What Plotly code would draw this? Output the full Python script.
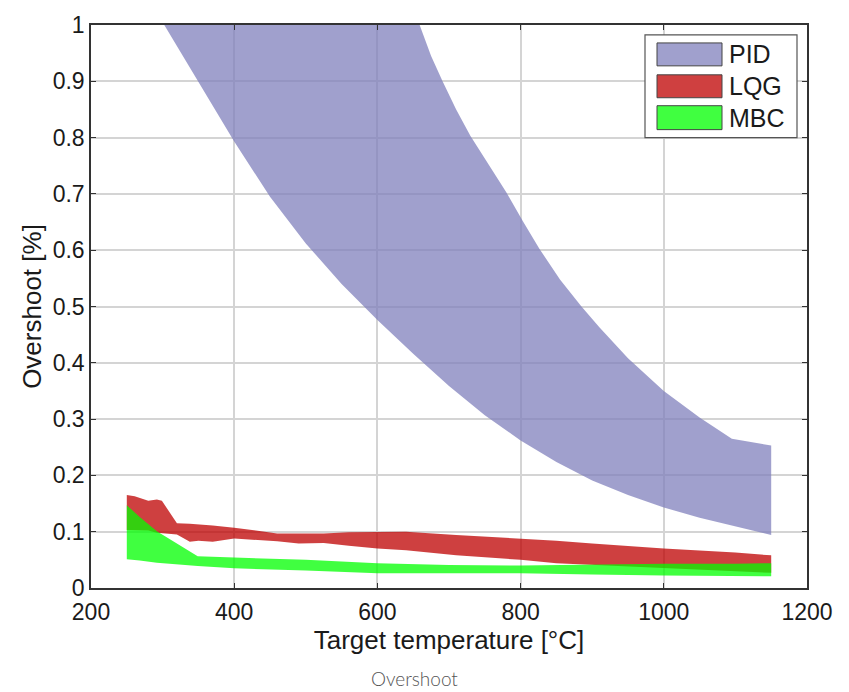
import plotly.graph_objects as go

# ---------------- data ----------------
pid_upper_x = [250, 450, 600, 640, 659, 675, 691, 710, 730, 755, 780, 803, 826, 855, 885, 910, 950, 1000, 1050, 1095, 1150]
pid_upper_y = [1.60, 1.40, 1.14, 1.05, 1.00, 0.945, 0.90, 0.85, 0.803, 0.752, 0.703, 0.652, 0.603, 0.548, 0.50, 0.463, 0.408, 0.35, 0.303, 0.265, 0.253]
pid_lower_x = [250, 300, 350, 400, 450, 500, 550, 600, 650, 700, 750, 800, 850, 900, 950, 1000, 1050, 1100, 1150]
pid_lower_y = [1.115, 1.005, 0.898, 0.793, 0.695, 0.612, 0.540, 0.476, 0.416, 0.359, 0.307, 0.262, 0.224, 0.191, 0.165, 0.143, 0.125, 0.109, 0.094]

lqg_x = [250, 261, 280, 292, 299, 320, 338, 350, 370, 400, 460, 490, 525, 560, 600, 640, 710, 800, 850, 900, 1000, 1100, 1150]
lqg_upper = [0.165, 0.163, 0.155, 0.157, 0.155, 0.115, 0.114, 0.113, 0.111, 0.107, 0.097, 0.097, 0.097, 0.099, 0.100, 0.100, 0.094, 0.088, 0.084, 0.079, 0.070, 0.063, 0.058]
lqg_lower = [0.103, 0.103, 0.102, 0.098, 0.097, 0.095, 0.082, 0.084, 0.082, 0.088, 0.083, 0.079, 0.080, 0.075, 0.070, 0.067, 0.058, 0.050, 0.044, 0.041, 0.036, 0.030, 0.027]

mbc_x = [250, 268, 292, 316, 338, 349, 400, 500, 600, 700, 800, 900, 1000, 1100, 1150]
mbc_upper = [0.147, 0.126, 0.101, 0.082, 0.064, 0.0566, 0.054, 0.050, 0.044, 0.041, 0.040, 0.042, 0.043, 0.043, 0.044]
mbc_lower = [0.051, 0.049, 0.045, 0.043, 0.040, 0.039, 0.035, 0.031, 0.026, 0.026, 0.026, 0.024, 0.022, 0.021, 0.021]

series_names = ["PID", "LQG", "MBC"]
series_fill = ["rgba(128,128,188,0.75)", "rgba(190,0,0,0.75)", "rgba(0,255,0,0.75)"]

x_ticks = [200, 400, 600, 800, 1000, 1200]
y_ticks = [0, 0.1, 0.2, 0.3, 0.4, 0.5, 0.6, 0.7, 0.8, 0.9, 1]
y_tick_text = ["0", "0.1", "0.2", "0.3", "0.4", "0.5", "0.6", "0.7", "0.8", "0.9", "1"]

# ---------------- figure ----------------
fig = go.Figure()

def band(xu, yu, xl, yl, name, color):
    xs = list(xu) + list(reversed(xl)) + [xu[0]]
    ys = list(yu) + list(reversed(yl)) + [yu[0]]
    fig.add_trace(go.Scatter(x=xs, y=ys, fill="toself", fillcolor=color,
                             mode="lines", line=dict(width=0), name=name,
                             hoverinfo="skip", showlegend=False))

band(pid_upper_x, pid_upper_y, pid_lower_x, pid_lower_y, series_names[0], series_fill[0])
band(lqg_x, lqg_upper, lqg_x, lqg_lower, series_names[1], series_fill[1])
band(mbc_x, mbc_upper, mbc_x, mbc_lower, series_names[2], series_fill[2])

W, H = 849, 692
L, R, T, B = 91, 42, 23, 104

font_main = "Liberation Sans, Arial, sans-serif"

fig.update_layout(
    width=W, height=H,
    margin=dict(l=L, r=R, t=T, b=B, pad=0),
    paper_bgcolor="white", plot_bgcolor="white",
    showlegend=False,
    font=dict(family=font_main, color="#1a1a1a"),
    xaxis=dict(range=[200, 1200], tickvals=x_ticks, ticktext=[str(v) for v in x_ticks],
               showgrid=True, gridcolor="#d4d4d4", gridwidth=1.5,
               showline=True, linecolor="#333", linewidth=1.5, mirror="ticks",
               ticks="inside", ticklen=5, tickcolor="#333",
               ticklabelstandoff=3,
               tickfont=dict(size=23, family=font_main),
               title=dict(text="Target temperature [°C]", font=dict(size=26, family=font_main), standoff=4),
               zeroline=False, fixedrange=True),
    yaxis=dict(range=[0, 1], tickvals=y_ticks, ticktext=y_tick_text,
               showgrid=True, gridcolor="#d4d4d4", gridwidth=1.5,
               showline=True, linecolor="#333", linewidth=1.5, mirror="ticks",
               ticks="inside", ticklen=5, tickcolor="#333",
               tickfont=dict(size=23, family=font_main),
               title=dict(text="Overshoot [%]", font=dict(size=26, family=font_main), standoff=4),
               zeroline=False, fixedrange=True),
)

# ---- custom legend (paper coordinates) ----
pw = W - L - R
ph = H - T - B
def px2x(px):
    return (px - L) / pw
def py2y(py):
    return (H - B - py) / ph

shapes = [dict(type="rect", xref="paper", yref="paper",
               x0=px2x(645), x1=px2x(797), y0=py2y(136), y1=py2y(33),
               line=dict(color="#555", width=1.2), fillcolor="white", layer="above")]
swatch_rows = [(41, 64), (73, 96), (104, 128)]
solid = ["rgb(160,160,205)", "rgb(207,64,64)", "rgb(64,255,64)"]
annotations = []
for (t0, t1), c, name in zip(swatch_rows, solid, series_names):
    shapes.append(dict(type="rect", xref="paper", yref="paper",
                       x0=px2x(657), x1=px2x(722), y0=py2y(t1), y1=py2y(t0),
                       line=dict(color="#444", width=1), fillcolor=c, layer="above"))
    annotations.append(dict(xref="paper", yref="paper", x=px2x(727), y=py2y((t0 + t1) / 2),
                            text=name, showarrow=False, xanchor="left", yanchor="middle",
                            font=dict(size=25, family=font_main, color="#1a1a1a")))

annotations.append(dict(xref="paper", yref="paper", x=px2x(414), y=py2y(679),
                        text="Overshoot", showarrow=False, xanchor="center", yanchor="middle",
                        font=dict(size=19, family="Lato, sans-serif", color="#555", weight=300)))

fig.update_layout(shapes=shapes, annotations=annotations)

fig.write_html("out.html")
